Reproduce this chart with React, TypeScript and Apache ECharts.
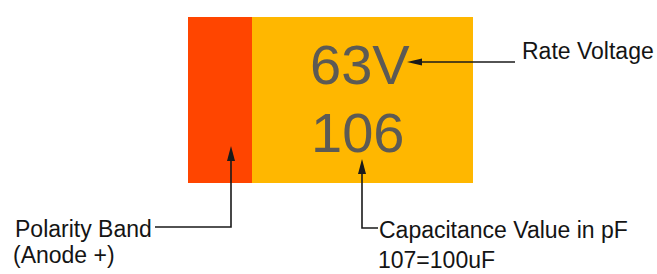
import React, { useEffect, useRef } from "react";
import * as echarts from "echarts";

// Texts of the diagram
const markings: string[] = ["63V", "106"];
const calloutTitles: string[] = ["Rate Voltage", "Polarity Band", "Capacitance Value in pF"];
const calloutNotes: string[] = ["", "(Anode +)", "107=100uF"];

// Colours
const BODY_COLOR = "#FFB700";
const BAND_COLOR = "#FF4500";
const MARK_COLOR = "#5c5a55";
const LINE_COLOR = "#1a1a1a";
const LABEL_FONT = "Liberation Sans, Arial, sans-serif";

function arrowHead(tipX: number, tipY: number, dir: "up" | "left", len = 14, half = 4) {
  const pts =
    dir === "up"
      ? [[tipX, tipY], [tipX - half, tipY + len], [tipX + half, tipY + len]]
      : [[tipX, tipY], [tipX + len, tipY - half], [tipX + len, tipY + half]];
  return { type: "polygon", shape: { points: pts }, style: { fill: LINE_COLOR }, silent: true };
}

function polyline(points: number[][]) {
  return {
    type: "polyline",
    shape: { points },
    style: { stroke: LINE_COLOR, lineWidth: 1.6, fill: null },
    silent: true,
  };
}

function label(text: string, x: number, y: number, size = 23, fill = "#141414") {
  return {
    type: "text",
    x,
    y,
    style: {
      text,
      fill,
      font: `${size}px ${LABEL_FONT}`,
      align: "left",
      verticalAlign: "middle",
    },
    silent: true,
  };
}

export default function App() {
  const ref = useRef<HTMLDivElement>(null);

  useEffect(() => {
    if (!ref.current) return;
    const chart = echarts.init(ref.current, undefined, { renderer: "svg" });

    const graphic: any[] = [
      // capacitor body
      { type: "rect", shape: { x: 188, y: 17, width: 285, height: 166 }, style: { fill: BODY_COLOR }, silent: true },
      // polarity band
      { type: "rect", shape: { x: 188, y: 17, width: 64, height: 166 }, style: { fill: BAND_COLOR }, silent: true },
      // markings
      label(markings[0], 310, 64, 56, MARK_COLOR),
      label(markings[1], 311, 132, 56, MARK_COLOR),
      // Rate voltage callout
      polyline([[412, 62], [515, 62]]),
      arrowHead(407, 62, "left", 15, 3.5),
      label(calloutTitles[0], 522, 51),
      // Polarity band callout
      polyline([[155, 227], [231, 227], [231, 158]]),
      arrowHead(231, 146, "up", 15, 4),
      label(calloutTitles[1], 15, 229),
      label(calloutNotes[1], 13, 255),
      // Capacitance callout
      polyline([[378, 228], [362, 228], [362, 170]]),
      arrowHead(362, 159, "up", 15, 4),
      label(calloutTitles[2], 379, 230),
      label(calloutNotes[2], 378, 260),
    ];

    chart.setOption({
      animation: false,
      backgroundColor: "#ffffff",
      graphic,
    });

    return () => chart.dispose();
  }, []);

  return (
    <div
      ref={ref}
      style={{ position: "fixed", left: 0, top: 0, width: 657, height: 274, background: "#fff" }}
    />
  );
}
